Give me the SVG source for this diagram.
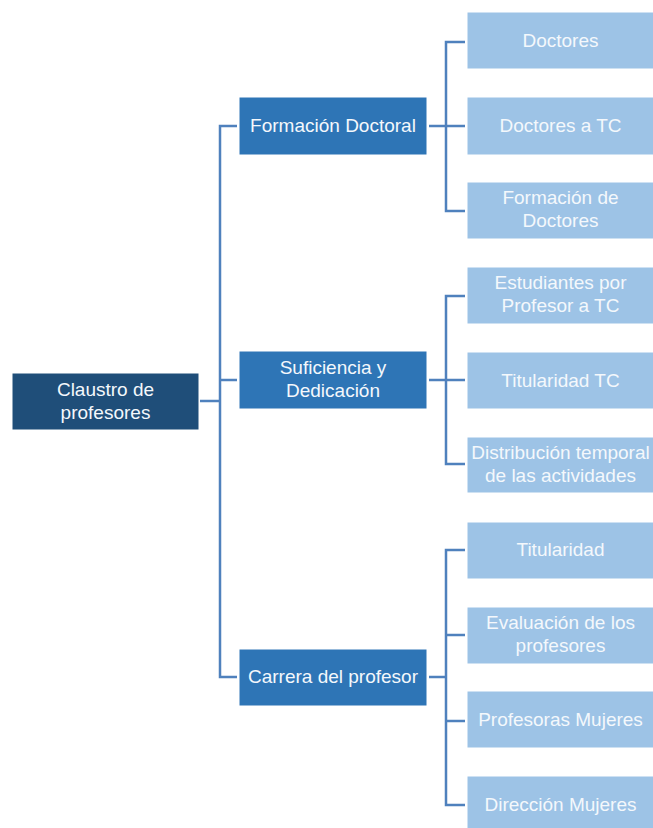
<svg xmlns="http://www.w3.org/2000/svg" width="653" height="828" viewBox="0 0 653 828">
<style>
.root{fill:#1F4E79;stroke:#ffffff;stroke-width:1}
.l1{fill:#2E75B6;stroke:#ffffff;stroke-width:1}
.l2{fill:#9DC3E6;stroke:#ffffff;stroke-width:1}
text{font-family:"Liberation Sans",Arial,sans-serif;font-size:19px;fill:#F4F8FC;text-anchor:middle}
.conn{fill:none;stroke:#4F81BD;stroke-width:2.5}
</style>
<rect width="653" height="828" fill="#ffffff"/>
<g id="connectors" class="conn">
<path d="M200 401H220"/>
<path d="M237 126H220V677H237"/>
<path d="M220 380H237"/>
<path d="M429 126H465"/>
<path d="M465 42H446V211H465"/>
<path d="M429 380H465"/>
<path d="M465 296H446V464H465"/>
<path d="M429 677H446"/>
<path d="M465 550H446V805H465"/>
<path d="M446 635H465"/>
<path d="M446 721H465"/>
</g>
<g id="n-root"><rect class="root" x="12" y="373" width="187" height="57"/><text x="105.5" y="396">Claustro de</text><text x="105.5" y="419">profesores</text></g>
<g id="n-formacion"><rect class="l1" x="239" y="97" width="188" height="58"/><text x="333" y="132">Formación Doctoral</text></g>
<g id="n-suficiencia"><rect class="l1" x="239" y="351" width="188" height="58"/><text x="333" y="374">Suficiencia y</text><text x="333" y="397">Dedicación</text></g>
<g id="n-carrera"><rect class="l1" x="239" y="649" width="188" height="57"/><text x="333" y="683">Carrera del profesor</text></g>
<g id="n-doctores"><rect class="l2" x="467" y="12" width="187" height="57"/><text x="560.5" y="47">Doctores</text></g>
<g id="n-doctorestc"><rect class="l2" x="467" y="97" width="187" height="58"/><text x="560.5" y="132">Doctores a TC</text></g>
<g id="n-formdoct"><rect class="l2" x="467" y="182" width="187" height="57"/><text x="560.5" y="204">Formación de</text><text x="560.5" y="227">Doctores</text></g>
<g id="n-estudiantes"><rect class="l2" x="467" y="267" width="187" height="57"/><text x="560.5" y="289">Estudiantes por</text><text x="560.5" y="312">Profesor a TC</text></g>
<g id="n-titularidadtc"><rect class="l2" x="467" y="352" width="187" height="57"/><text x="560.5" y="387">Titularidad TC</text></g>
<g id="n-distribucion"><rect class="l2" x="467" y="437" width="187" height="56"/><text x="560.5" y="459">Distribución temporal</text><text x="560.5" y="482">de las actividades</text></g>
<g id="n-titularidad"><rect class="l2" x="467" y="522" width="187" height="57"/><text x="560.5" y="556">Titularidad</text></g>
<g id="n-evaluacion"><rect class="l2" x="467" y="607" width="187" height="57"/><text x="560.5" y="629">Evaluación de los</text><text x="560.5" y="652">profesores</text></g>
<g id="n-profesoras"><rect class="l2" x="467" y="691" width="187" height="57"/><text x="560.5" y="726">Profesoras Mujeres</text></g>
<g id="n-direccion"><rect class="l2" x="467" y="776" width="187" height="57"/><text x="560.5" y="811">Dirección Mujeres</text></g>
</svg>
